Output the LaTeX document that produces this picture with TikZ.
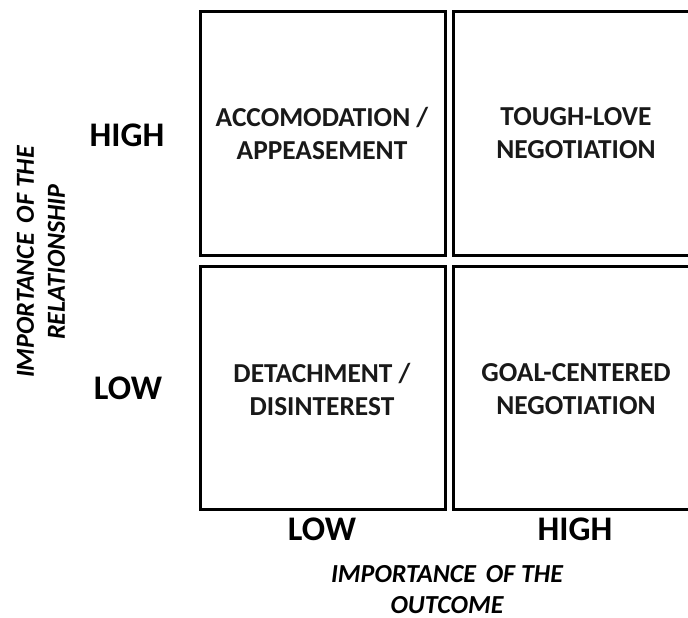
\documentclass[tikz,border=0pt]{standalone}
\usepackage{fontspec}
\setmainfont{Carlito}
\begin{document}
\begin{tikzpicture}[x=1pt,y=-1pt,
  cell/.style={draw=black,line width=3pt,line join=miter},
  celltext/.style={font=\bfseries\fontsize{27.4}{33}\selectfont,align=center,text=black!90},
  level/.style={font=\bfseries\fontsize{34.5}{38}\selectfont,text=black},
  axis/.style={font=\bfseries\itshape\fontsize{26}{31}\selectfont,align=center,text=black,inner sep=0pt}]
\useasboundingbox (0,0) rectangle (688,618);
\begin{scope}
\clip (0,0) rectangle (688,618);
% the four quadrants
\draw[cell] (200,11.5) rectangle (445,255.5);
\draw[cell] (453.5,11.5) rectangle (698.5,255.5);
\draw[cell] (200,266.5) rectangle (445,509.5);
\draw[cell] (453.5,266.5) rectangle (698.5,509.5);
\end{scope}
\node[celltext] (acc) at (322,133) {ACCOMODATION /\\APPEASEMENT};
\node[celltext] (tough) at (576,133) {TOUGH-LOVE\\NEGOTIATION};
\node[celltext] (det) at (322,389) {DETACHMENT /\\DISINTEREST};
\node[celltext] (goal) at (576,389) {GOAL-CENTERED\\NEGOTIATION};
% level labels
\node[level] (relhigh) at (127,135) {HIGH};
\node[level] (rellow) at (128,388) {LOW};
\node[level] (outlow) at (322,529) {LOW};
\node[level] (outhigh) at (575,529) {HIGH};
% axis titles
\node[axis,rotate=90] (relaxis) at (41,262) {IMPORTANCE\hspace{0.15em} OF THE\\RELATIONSHIP};
\node[axis] (outaxis) at (447,590) {IMPORTANCE\hspace{0.15em} OF THE\\OUTCOME};
\end{tikzpicture}
\end{document}
